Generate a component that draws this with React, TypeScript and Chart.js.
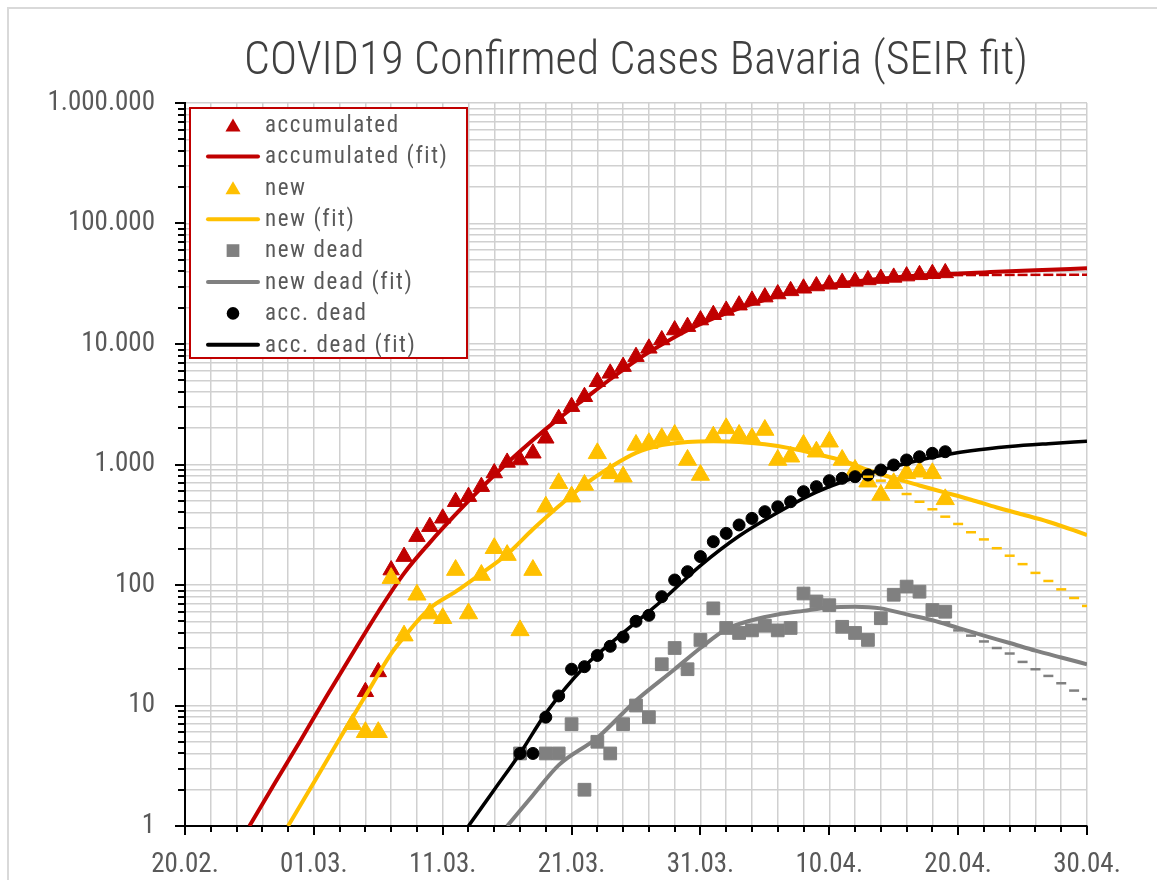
import React, { useEffect, useRef } from 'react';
import { Chart, registerables } from 'chart.js';

Chart.register(...registerables);

// ---------- text ----------
const TITLE = 'COVID19 Confirmed Cases Bavaria (SEIR fit)';
// x axis: day index, 0 = 20.02.2020, one label every 10 days
const X_TICK_LABELS = ['20.02.', '01.03.', '11.03.', '21.03.', '31.03.', '10.04.', '20.04.', '30.04.'];
// y axis: one label per decade, 10^0 ... 10^6
const Y_TICK_LABELS = ['1', '10', '100', '1.000', '10.000', '100.000', '1.000.000'];

// ---------- observed values (one value per day, starting at the given day index) ----------
const ACCUMULATED_START = 14;
const accumulated = [13, 19, 133, 172, 252, 305, 358, 491, 541, 655, 850, 1040, 1090, 1240, 1650, 2400, 3020, 3650, 4860, 5710, 6490, 7850, 9210, 10800, 13060, 13930, 15800, 17500, 19000, 21000, 23000, 24500, 26000, 27600, 29000, 30300, 31300, 32300, 33100, 34000, 34900, 35700, 36600, 37500, 38300, 38900];

const NEW_START = 13;
const newCases = [7, 6, 6, 114, 38, 83, 58, 53, 133, 58, 121, 202, 177, 42, 133, 446, 698, 541, 676, 1238, 845, 792, 1452, 1500, 1649, 1757, 1090, 818, 1700, 1995, 1757, 1649, 1933, 1090, 1160, 1452, 1277, 1545, 1090, 900, 720, 558, 698, 845, 871, 845, 514];

const NEW_DEAD_START = 26;
const newDead = [4, null, 4, 4, 7, 2, 5, 4, 7, 10, 8, 22, 30, 20, 35, 64, 44, 40, 42, 46, 42, 44, 85, 73, 68, 45, 40, 35, 53, 83, 97, 88, 62, 60];

const ACC_DEAD_START = 26;
const accDead = [4, 4, 8, 12, 20, 21, 26, 31, 37, 50, 56, 80, 110, 129, 172, 229, 268, 315, 357, 406, 446, 491, 595, 655, 734, 768, 792, 818, 900, 991, 1090, 1160, 1238, 1277];

// ---------- SEIR fit curves (day index, value) ----------
const accFitDays = [5, 7, 9, 11, 13, 15, 17, 19, 21, 23, 25, 27, 29, 31, 33, 35, 37, 39, 41, 43, 45, 47, 49, 51, 53, 55, 57, 59, 62, 66, 70];
const accFit = [1, 2.3, 5.2, 12, 27, 60, 125, 225, 385, 640, 1030, 1600, 2400, 3500, 5100, 7300, 9900, 13000, 16300, 19800, 23300, 26600, 29500, 32000, 34000, 35700, 37000, 38000, 39300, 41000, 42500];

const newFitDays = [8, 10, 12, 14, 16, 17, 19, 21, 23, 25, 27, 29, 31, 33, 35, 37, 39, 41, 43, 45, 47, 49, 51, 53, 55, 57, 59, 61, 63, 65, 67, 70];
const newFit = [1, 2.3, 5.3, 12, 27, 37, 64, 88, 125, 180, 290, 450, 680, 950, 1250, 1450, 1540, 1560, 1540, 1470, 1360, 1220, 1080, 900, 770, 670, 585, 510, 440, 385, 335, 260];

const newDeadFitDays = [25, 27, 29, 32, 35, 38, 40, 42, 44, 46, 48, 50, 52, 54, 56, 58, 60, 62, 64, 66, 68, 70];
const newDeadFit = [1, 1.8, 3.2, 5.4, 11, 20, 30, 43, 51, 57, 61, 65, 66, 64, 57, 51, 44, 38, 33, 28.5, 25, 22];

const accDeadFitDays = [22, 24, 26, 28, 31, 34, 37, 40, 43, 46, 49, 52, 55, 58, 61, 64, 67, 70];
const accDeadFit = [1, 2.0, 4.0, 8.6, 21, 40, 74, 145, 255, 400, 590, 780, 960, 1150, 1300, 1410, 1490, 1560];

// ---------- short dash markers (day-wise values, not in the legend) ----------
const ACC_DASH_START = 60;
const accDash = [37300, 37350, 37400, 37400, 37450, 37450, 37500, 37500, 37500, 37550, 37550];
const NEW_DASH_START = 53;
const newDash = [792, 734, 645, 569, 491, 425, 369, 321, 274, 239, 202, 175, 149, 126, 108, 92, 78, 67];
const DEAD_DASH_START = 59;
const deadDash = [49, 42, 38, 34, 30, 27, 23, 20, 17.6, 15.3, 13.3, 11.3];

// ---------- styles ----------
const RED = '#C00000';
const YELLOW = '#FFC000';
const GRAY = '#808080';
const BLACK = '#000000';
const GRID = '#D0D0D0';
const TEXT = '#595959';
const FONT = '"Roboto Condensed", "Liberation Sans", Arial, sans-serif';

const daily = (start: number, values: (number | null)[]) =>
  values.map((v, i) => ({ x: start + i, y: v }));
const paired = (days: number[], values: number[]) =>
  days.map((d, i) => ({ x: d, y: values[i] }));

const isDecade = (v: number) => Math.abs(Math.log10(v) - Math.round(Math.log10(v))) < 1e-9;

function drawMarker(ctx: CanvasRenderingContext2D, style: string, cx: number, cy: number, r: number) {
  ctx.beginPath();
  if (style === 'triangle') {
    const yc = cy + r / 4;
    ctx.moveTo(cx, yc - r);
    ctx.lineTo(cx + 0.866 * r, yc + 0.5 * r);
    ctx.lineTo(cx - 0.866 * r, yc + 0.5 * r);
    ctx.closePath();
  } else if (style === 'rect') {
    const s = Math.SQRT1_2 * r;
    ctx.rect(cx - s, cy - s, 2 * s, 2 * s);
  } else {
    ctx.arc(cx, cy, r, 0, Math.PI * 2);
  }
  ctx.fill();
}

const boxLegend = {
  id: 'boxLegend',
  afterDraw(chart: any) {
    const { ctx, chartArea } = chart;
    const x0 = chartArea.left + 5;
    const y0 = chartArea.top + 5;
    const w = 277;
    const h = 250;
    ctx.save();
    ctx.fillStyle = '#ffffff';
    ctx.fillRect(x0, y0, w, h);
    ctx.strokeStyle = RED;
    ctx.lineWidth = 2;
    ctx.strokeRect(x0, y0, w, h);
    const items = chart.data.datasets.filter((d: any) => d.inLegend);
    items.forEach((ds: any, i: number) => {
      const cy = y0 + 17 + i * 31.4;
      const cx = x0 + 43;
      if (ds.showLine) {
        ctx.strokeStyle = ds.borderColor;
        ctx.lineWidth = 4;
        ctx.lineCap = 'round';
        ctx.beginPath();
        ctx.moveTo(x0 + 18, cy);
        ctx.lineTo(x0 + 68, cy);
        ctx.stroke();
      } else {
        ctx.fillStyle = ds.pointBackgroundColor;
        drawMarker(ctx, ds.pointStyle, cx, cy, ds.pointStyle === 'circle' ? 6.3 : ds.pointStyle === 'rect' ? 9 : 8.7);
      }
      ctx.fillStyle = TEXT;
      ctx.font = `23px ${FONT}`;
      (ctx as any).letterSpacing = '1.6px';
      ctx.textBaseline = 'middle';
      ctx.textAlign = 'left';
      ctx.fillText(ds.label, x0 + 75, cy + 1);
      (ctx as any).letterSpacing = '0px';
    });
    ctx.restore();
  },
};

const tickMarks = {
  id: 'tickMarks',
  afterDraw(chart: any) {
    const { ctx, chartArea } = chart;
    const xs = chart.scales.x;
    const ys = chart.scales.y;
    ctx.save();
    ctx.strokeStyle = BLACK;
    ctx.lineWidth = 2;
    ctx.beginPath();
    ys.ticks.forEach((t: any) => {
      const y = Math.round(ys.getPixelForValue(t.value));
      ctx.moveTo(chartArea.left - (isDecade(t.value) ? 10 : 7), y);
      ctx.lineTo(chartArea.left, y);
    });
    xs.ticks.forEach((t: any) => {
      const x = Math.round(xs.getPixelForValue(t.value));
      ctx.moveTo(x, chartArea.bottom);
      ctx.lineTo(x, chartArea.bottom + (t.value % 10 === 0 ? 9 : 6));
    });
    ctx.stroke();
    ctx.restore();
  },
};

const frame = {
  id: 'frame',
  beforeDraw(chart: any) {
    const { ctx, width, height } = chart;
    ctx.save();
    ctx.fillStyle = '#ffffff';
    ctx.fillRect(0, 0, width, height);
    ctx.strokeStyle = '#D9D9D9';
    ctx.lineWidth = 2;
    ctx.beginPath();
    ctx.moveTo(8, height + 5);
    ctx.lineTo(8, 8);
    ctx.lineTo(width + 5, 8);
    ctx.stroke();
    ctx.restore();
  },
};

export default function App() {
  const ref = useRef<HTMLCanvasElement | null>(null);

  useEffect(() => {
    if (!ref.current) return;
    const markerSet = (label: string, color: string, style: string, radius: number, data: any[], order: number) => ({
      label, data, inLegend: true, showLine: false, pointStyle: style, pointRadius: radius,
      pointBackgroundColor: color, pointBorderColor: color, pointBorderWidth: 1,
      backgroundColor: color, borderColor: color, order,
    });
    const fitSet = (label: string, color: string, width: number, data: any[], order: number) => ({
      label, data, inLegend: true, showLine: true, pointRadius: 0, borderColor: color,
      backgroundColor: color, borderWidth: width, cubicInterpolationMode: 'monotone', order,
    });
    const dashSet = (label: string, color: string, data: any[], order: number) => ({
      label, data, inLegend: false, showLine: false, pointStyle: 'line', pointRadius: 5,
      pointBorderColor: color, pointBorderWidth: 2.5, borderColor: color, backgroundColor: color, order,
    });

    const chart = new Chart(ref.current, {
      type: 'scatter',
      data: {
        datasets: [
          markerSet('accumulated', RED, 'triangle', 9.5, daily(ACCUMULATED_START, accumulated), 20),
          fitSet('accumulated (fit)', RED, 4, paired(accFitDays, accFit), 19),
          markerSet('new', YELLOW, 'triangle', 10.5, daily(NEW_START, newCases), 18),
          fitSet('new (fit)', YELLOW, 4, paired(newFitDays, newFit), 17),
          markerSet('new dead', GRAY, 'rect', 9, daily(NEW_DEAD_START, newDead), 16),
          fitSet('new dead (fit)', GRAY, 4, paired(newDeadFitDays, newDeadFit), 15),
          markerSet('acc. dead', BLACK, 'circle', 6, daily(ACC_DEAD_START, accDead), 14),
          fitSet('acc. dead (fit)', BLACK, 3.5, paired(accDeadFitDays, accDeadFit), 13),
          dashSet('accumulated (trend)', RED, daily(ACC_DASH_START, accDash), 12),
          dashSet('new (trend)', YELLOW, daily(NEW_DASH_START, newDash), 11),
          dashSet('new dead (trend)', GRAY, daily(DEAD_DASH_START, deadDash), 10),
        ] as any,
      },
      options: {
        animation: false,
        responsive: false,
        devicePixelRatio: 1,
        layout: { padding: { left: 0, right: 70, top: 0, bottom: 0 } },
        plugins: {
          legend: { display: false },
          tooltip: { enabled: false },
          title: {
            display: true,
            text: TITLE,
            fullSize: false,
            color: '#404040',
            font: { family: FONT, size: 46, weight: 300, lineHeight: 1.2 },
            padding: { top: 34.4, bottom: 13.4 },
          },
        },
        scales: {
          x: {
            type: 'linear',
            min: 0,
            max: 70,
            afterBuildTicks: (scale: any) => {
              const t = [];
              for (let v = 0; v <= 70; v += 2) t.push({ value: v });
              scale.ticks = t;
            },
            afterFit: (scale: any) => { scale.height = 54; },
            grid: { color: GRID, lineWidth: 1.5, drawTicks: false },
            border: { color: BLACK, width: 2 },
            ticks: {
              autoSkip: false,
              maxRotation: 0,
              padding: 23,
              color: TEXT,
              font: { family: FONT, size: 27 },
              callback: (v: any) => (Number(v) % 10 === 0 ? X_TICK_LABELS[Number(v) / 10] : ''),
            },
          },
          y: {
            type: 'logarithmic',
            min: 1,
            max: 1000000,
            afterBuildTicks: (scale: any) => {
              const t = [];
              for (let k = 0; k < 6; k++) for (let m = 1; m <= 9; m++) t.push({ value: m * Math.pow(10, k) });
              t.push({ value: 1000000 });
              scale.ticks = t;
            },
            afterFit: (scale: any) => { scale.width = 185; },
            grid: { color: GRID, lineWidth: 1.5, drawTicks: false },
            border: { color: BLACK, width: 2 },
            ticks: {
              autoSkip: false,
              padding: 30,
              color: TEXT,
              font: { family: FONT, size: 27 },
              callback: (v: any) => (isDecade(Number(v)) ? Y_TICK_LABELS[Math.round(Math.log10(Number(v)))] : ''),
            },
          },
        },
      } as any,
      plugins: [frame, tickMarks, boxLegend],
    });
    return () => chart.destroy();
  }, []);

  return (
    <div style={{ position: 'fixed', left: 0, top: 0, width: 1157, height: 880, background: '#fff' }}>
      <canvas ref={ref} width={1157} height={880} style={{ width: 1157, height: 880, display: 'block' }} />
    </div>
  );
}
